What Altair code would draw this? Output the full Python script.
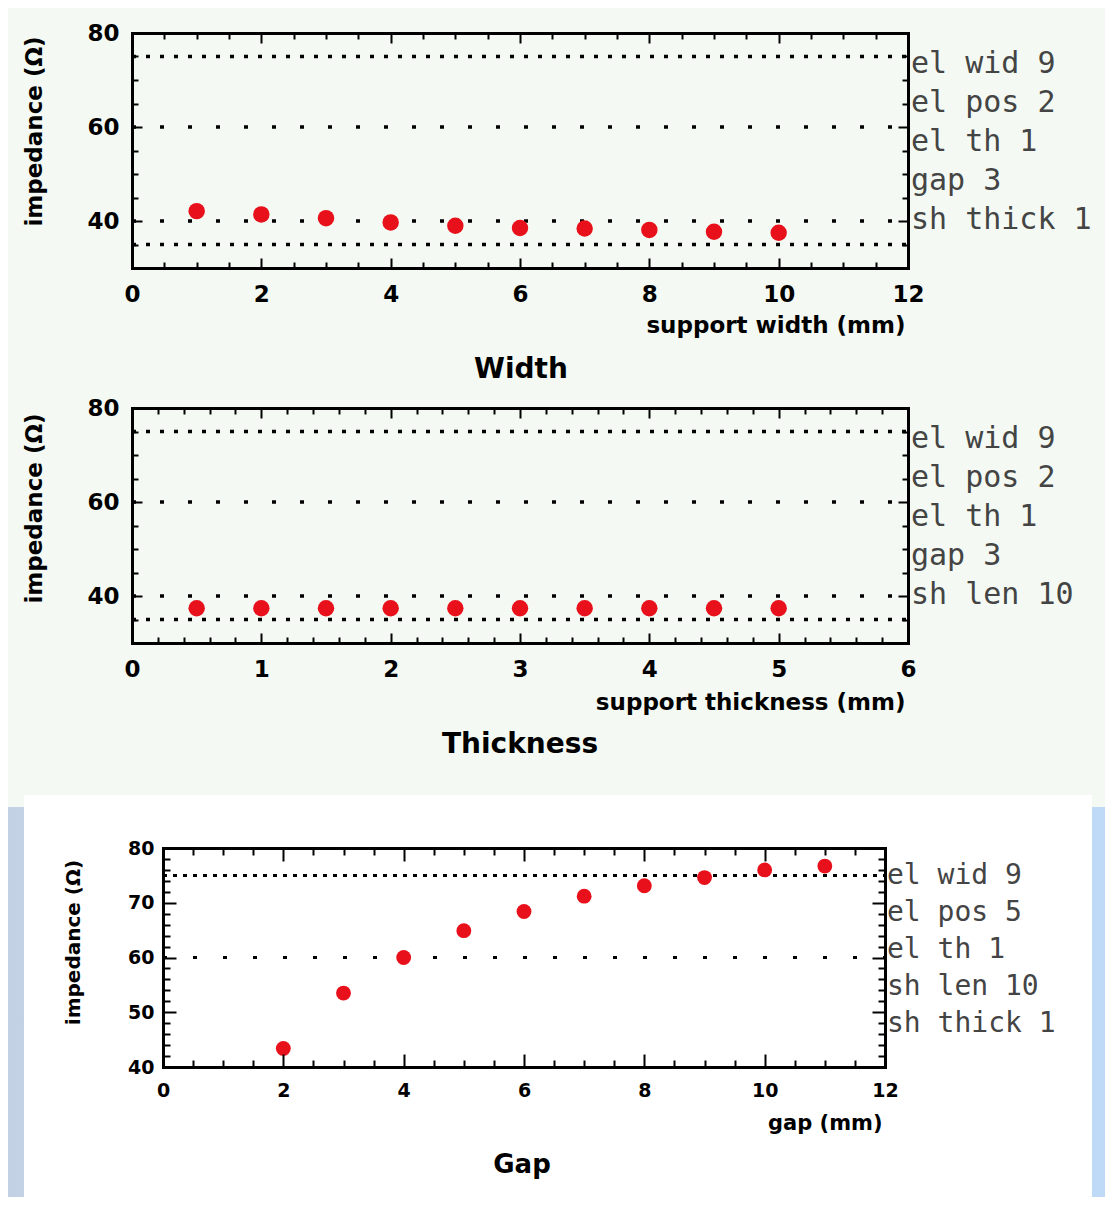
import altair as alt
import pandas as pd

# ---------------- data ----------------
width_x = [1, 2, 3, 4, 5, 6, 7, 8, 9, 10]
width_z = [42.1, 41.4, 40.6, 39.7, 39.0, 38.5, 38.4, 38.1, 37.7, 37.5]

thick_x = [0.5, 1.0, 1.5, 2.0, 2.5, 3.0, 3.5, 4.0, 4.5, 5.0]
thick_z = [37.4, 37.4, 37.4, 37.4, 37.4, 37.4, 37.4, 37.4, 37.4, 37.4]

gap_x = [2, 3, 4, 5, 6, 7, 8, 9, 10, 11]
gap_z = [43.4, 53.5, 60.0, 64.9, 68.4, 71.2, 73.1, 74.6, 76.0, 76.7]

ref_levels = [75, 60, 40, 35]
ref_styles = ["dense", "sparse", "sparse", "dense"]
gap_ref_levels = [75, 60]
gap_ref_styles = ["dense", "sparse"]

width_notes = ["el wid 9", "el pos 2", "el th 1", "gap 3", "sh thick 1"]
thick_notes = ["el wid 9", "el pos 2", "el th 1", "gap 3", "sh len 10"]
gap_notes = ["el wid 9", "el pos 5", "el th 1", "sh len 10", "sh thick 1"]

# ---------------- layout ----------------
W, H = 1097, 1189
BOLD = "DejaVu Sans"
NOTE_FONT = "DejaVu Sans Mono"


def frange(a, b, step):
    n = int(round((b - a) / step))
    return [round(a + i * step, 4) for i in range(n + 1)]


def tsize(step, major, minor):
    return {"condition": {"test": f"abs(datum.value - round(datum.value / {step}) * {step}) < 0.001",
                          "value": major}, "value": minor}


def panel(cfg, xs_vals, zs_vals, levels, styles):
    x0, x1 = cfg["xr"]
    yb, yt = cfg["yr"]
    xs = alt.Scale(domain=cfg["xdom"], range=[x0, x1], nice=False, zero=False)
    ys = alt.Scale(domain=cfg["ydom"], range=[yb, yt], nice=False, zero=False)
    common = dict(grid=False, labelFlush=False, labelOverlap=False, tickColor="black",
                  tickWidth=2, domainColor="black", domainWidth=3, domainCap="square", zindex=1)
    xt = tsize(cfg["xmaj"], cfg["tmaj"], cfg["tmin"])
    yt_sz = tsize(cfg["ymaj"], cfg["tmaj"], cfg["tmin"])
    xminor = frange(cfg["xdom"][0], cfg["xdom"][1], cfg["xmin"])
    yminor = frange(cfg["ydom"][0], cfg["ydom"][1], cfg["ymin"])

    ax_x_lab = alt.Axis(orient="bottom", offset=-(H - yb), values=cfg["xlabels"], ticks=False,
                        domain=True, format="d", labelFont=BOLD, labelFontWeight="bold",
                        labelFontSize=cfg["lfs"], labelColor="black", labelPadding=cfg["xpad"],
                        title=cfg["xtitle"], titleFont=BOLD, titleFontWeight="bold",
                        titleFontSize=cfg["tfs"], titleColor="black", titleX=cfg["xtitle_x"],
                        titleY=cfg["xtitle_y"], titleAlign="right", titleBaseline="middle",
                        **common)
    ax_y_lab = alt.Axis(orient="left", offset=-x0, values=cfg["ylabels"], ticks=False,
                        domain=True, format="d", labelFont=BOLD, labelFontWeight="bold",
                        labelFontSize=cfg["lfs"], labelColor="black", labelPadding=cfg["ypad"],
                        title="impedance (Ω)", titleFont=BOLD, titleFontWeight="bold",
                        titleFontSize=cfg["yfs"], titleColor="black", titleX=cfg["ytitle_x"],
                        titleY=cfg["ytitle_y"], titleAngle=270, titleAlign="center",
                        titleBaseline="middle", **common)
    ax_x_in_bottom = alt.Axis(orient="top", offset=-yb, values=xminor, labels=False,
                              domain=False, tickSize=xt, title=None, **common)
    ax_y_in_left = alt.Axis(orient="right", offset=-(W - x0), values=yminor, labels=False,
                            domain=False, tickSize=yt_sz, title=None, **common)
    ax_x_top = alt.Axis(orient="bottom", offset=-(H - yt), values=xminor, labels=False,
                        domain=True, tickSize=xt, title=None, **common)
    ax_y_right = alt.Axis(orient="left", offset=-x1, values=yminor, labels=False,
                          domain=True, tickSize=yt_sz, title=None, **common)

    lines = pd.DataFrame({"level": levels, "style": styles})
    pts = pd.DataFrame({"x": xs_vals, "z": zs_vals})

    dense = alt.Chart(lines).transform_filter(alt.datum.style == "dense").mark_rule(
        color="black", strokeWidth=cfg["lw"], strokeDash=cfg["dense"]).encode(
        x=alt.XDatum(cfg["xdom"][0], type="quantitative", scale=xs, axis=ax_x_lab),
        x2=alt.X2Datum(cfg["xdom"][1]),
        y=alt.Y("level:Q", scale=ys, axis=ax_y_lab))
    sparse = alt.Chart(lines).transform_filter(alt.datum.style == "sparse").mark_rule(
        color="black", strokeWidth=cfg["lw"], strokeDash=cfg["sparse"]).encode(
        x=alt.XDatum(cfg["xdom"][0], type="quantitative", scale=xs, axis=ax_x_in_bottom),
        x2=alt.X2Datum(cfg["xdom"][1]),
        y=alt.Y("level:Q", scale=ys, axis=ax_y_in_left))
    dots = alt.Chart(pts).mark_circle(size=cfg["dot"], color="#e8101a", opacity=1).encode(
        x=alt.X("x:Q", scale=xs, axis=ax_x_top),
        y=alt.Y("z:Q", scale=ys, axis=ax_y_right))
    return alt.layer(dense, sparse, dots).resolve_axis(x="independent", y="independent")


def note_text(notes, x, y, size, lh):
    df = pd.DataFrame({"t": ["\n".join(notes)]})
    return alt.Chart(df).mark_text(align="left", baseline="alphabetic", lineBreak="\n",
                                   lineHeight=lh, font=NOTE_FONT, fontSize=size,
                                   color="#444444").encode(
        x=alt.value(x), y=alt.value(y), text="t:N")


def title_text(label, x, y, size):
    df = pd.DataFrame({"t": [label]})
    return alt.Chart(df).mark_text(align="center", baseline="middle", font=BOLD,
                                   fontWeight="bold", fontSize=size, color="black").encode(
        x=alt.value(x), y=alt.value(y), text="t:N")


cfg1 = dict(xdom=[0, 12], ydom=[30, 80], xr=[124, 900], yr=[260, 25],
            xlabels=frange(0, 12, 2), ylabels=[40, 60, 80], xmaj=2, xmin=0.5, ymaj=20, ymin=5,
            tmaj=10, tmin=6, lfs=23, tfs=23, yfs=23, xpad=15, ypad=13,
            xtitle="support width (mm)", xtitle_x=897, xtitle_y=57,
            ytitle_x=-98, ytitle_y=123, dense=[4, 10], sparse=[4, 24], lw=3.5, dot=270)
cfg2 = dict(xdom=[0, 6], ydom=[30, 80], xr=[124, 900], yr=[635, 400],
            xlabels=frange(0, 6, 1), ylabels=[40, 60, 80], xmaj=1, xmin=0.2, ymaj=20, ymin=5,
            tmaj=10, tmin=6, lfs=23, tfs=23, yfs=23, xpad=15, ypad=13,
            xtitle="support thickness (mm)", xtitle_x=897, xtitle_y=59,
            ytitle_x=-98, ytitle_y=500, dense=[4, 10], sparse=[4, 24], lw=3.5, dot=270)
cfg3 = dict(xdom=[0, 12], ydom=[40, 80], xr=[155, 877], yr=[1059, 840],
            xlabels=frange(0, 12, 2), ylabels=[40, 50, 60, 70, 80], xmaj=2, xmin=0.5, ymaj=10,
            ymin=2, tmaj=13, tmin=7, lfs=19, tfs=21, yfs=20, xpad=14, ypad=9,
            xtitle="gap (mm)", xtitle_x=874, xtitle_y=56,
            ytitle_x=-90, ytitle_y=934, dense=[4, 6], sparse=[4, 26], lw=3, dot=220)

p1 = panel(cfg1, width_x, width_z, ref_levels, ref_styles)
p2 = panel(cfg2, thick_x, thick_z, ref_levels, ref_styles)
p3 = panel(cfg3, gap_x, gap_z, gap_ref_levels, gap_ref_styles)

one = pd.DataFrame({"k": [0]})
bg_blue = alt.Chart(one).mark_rect(fill={
    "gradient": "linear", "x1": 0, "x2": 1, "y1": 0, "y2": 0,
    "stops": [{"offset": 0, "color": "#c3d1e4"}, {"offset": 1, "color": "#bfdaf7"}]}).encode(
    x=alt.value(0), x2=alt.value(W), y=alt.value(799), y2=alt.value(H))
bg_white = alt.Chart(one).mark_rect(fill="white").encode(
    x=alt.value(16), x2=alt.value(1084), y=alt.value(787), y2=alt.value(H))

texts = [
    note_text(width_notes, 903, 65, 30, 39),
    note_text(thick_notes, 903, 440, 30, 39),
    note_text(gap_notes, 879, 876, 28, 37),
    title_text("Width", 513, 362, 28),
    title_text("Thickness", 512, 737, 28),
    title_text("Gap", 514, 1157, 26),
]

chart = alt.layer(bg_blue, bg_white, p1, p2, p3, *texts).resolve_scale(
    x="independent", y="independent").resolve_axis(x="independent", y="independent").properties(
    width=W, height=H, autosize=alt.AutoSizeParams(type="none"), padding=0
).configure(background="#f4faf3").configure_view(strokeWidth=0)

chart.save("out.html", embed_options={"renderer": "svg", "actions": False})
